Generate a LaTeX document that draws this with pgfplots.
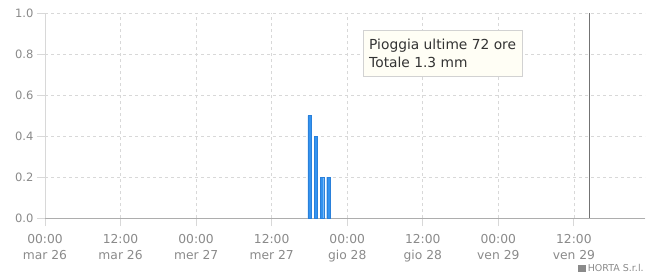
\documentclass[border=0pt]{standalone}
\usepackage{fontspec}
\setmainfont{DejaVu Sans}
\usepackage{pgfplots}
\pgfplotsset{compat=1.18}
\definecolor{barblue}{HTML}{3393F0}
\definecolor{bardark}{HTML}{2A80DA}
\definecolor{lblgray}{HTML}{8A8A8A}
\definecolor{gridgray}{HTML}{D8D8D8}
\begin{document}
\begin{tikzpicture}[x=1pt,y=1pt]
\path[use as bounding box] (0,0) rectangle (647,277);
\clip (0,0) rectangle (647,277);
\begin{axis}[
  at={(45pt,59pt)}, anchor=south west,
  scale only axis, width=600pt, height=205pt,
  xmin=0, xmax=95.3, ymin=0, ymax=1.0,
  axis x line=bottom, axis y line=left,
  axis line style={draw=lblgray!70, -},
  y axis line style={draw=gridgray},
  xtick={0,12,24,36,48,60,72,84},
  xticklabels={{00:00\\mar 26},{12:00\\mar 26},{00:00\\mer 27},{12:00\\mer 27},{00:00\\gio 28},{12:00\\gio 28},{00:00\\ven 29},{12:00\\ven 29}},
  x tick label style={align=center, text=lblgray, font=\fontsize{12.3}{15.5}\selectfont, yshift=-5pt},
  ytick={0,0.2,0.4,0.6,0.8,1.0},
  yticklabel style={text=lblgray, font=\fontsize{11.5}{13}\selectfont,
    /pgf/number format/fixed, /pgf/number format/precision=1,
    /pgf/number format/fixed zerofill, /pgf/number format/assume math mode=true},
  tick align=outside,
  major tick length=8pt,
  tick style={draw=gridgray, line width=0.8pt},
  xtick style={draw=gridgray},
  grid=major,
  major grid style={dashed, draw=gridgray, line width=0.7pt},
  clip=false,
]
\addplot[ybar, bar width=3.2pt, fill=barblue, draw=bardark, line width=0.2pt]
  coordinates {(42,0.5) (43,0.4) (44,0.2) (45,0.2)};
\addplot[draw=black!55, line width=1.4pt, mark=none] coordinates {(86.5,0) (86.5,1.0)};
\end{axis}
\node[draw=gray!35, fill=yellow!4, align=left, anchor=north west, inner xsep=6pt, inner ysep=8.5pt,
  font=\fontsize{13.8}{18}\selectfont, text=black!80] at (363,247)
  {Pioggia ultime 72 ore\\Totale 1.3 mm};
\node[anchor=west, text=lblgray, font=\fontsize{9.5}{11}\selectfont, inner sep=0pt] at (578,9)
  {\rule{8pt}{7pt}\,HORTA S.r.l.};
\end{tikzpicture}
\end{document}
